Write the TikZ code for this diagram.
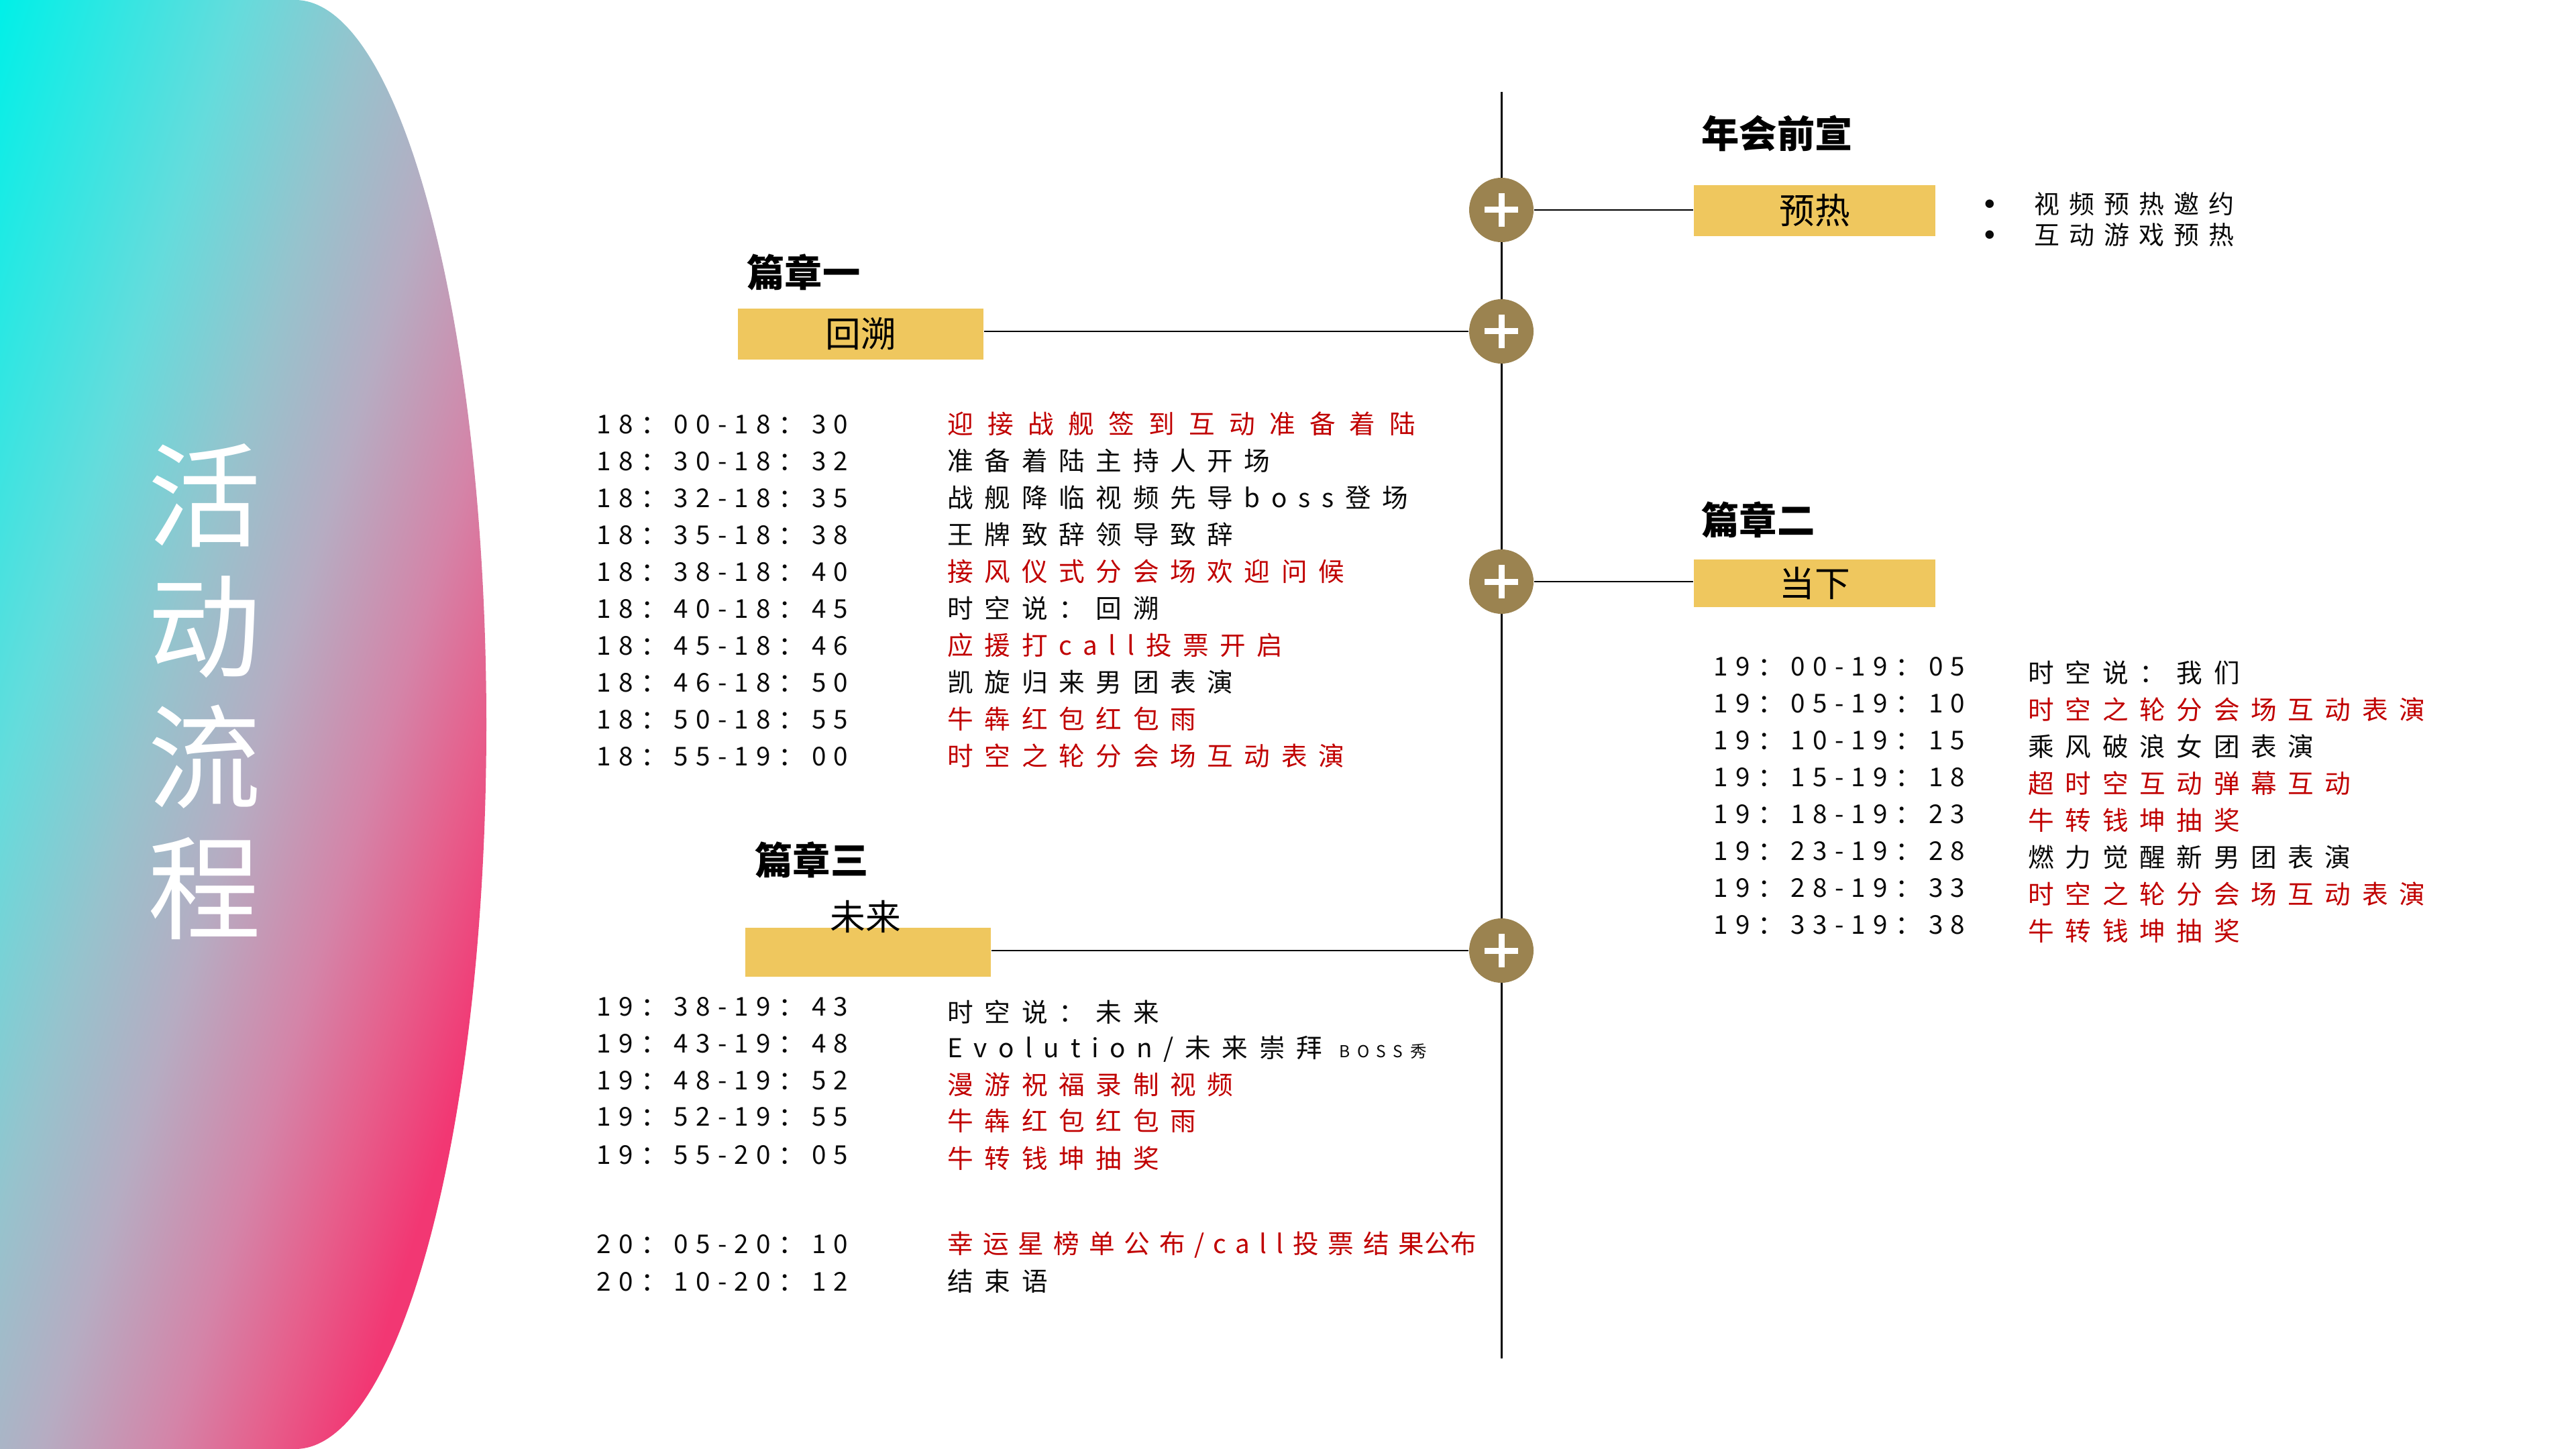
\documentclass[tikz,border=0pt]{standalone}
\usepackage{fontspec}
\usepackage{xcolor}
\usepackage{tikz}
\usetikzlibrary{positioning,calc}
\setmainfont{Noto Sans CJK SC}
\newfontfamily\timefont[LetterSpace=29]{Noto Sans CJK SC}
\newfontfamily\itemfont[LetterSpace=43]{Noto Sans CJK SC}
\newfontfamily\notefont[LetterSpace=37]{Noto Sans CJK SC}
\definecolor{BoxYellow}{RGB}{239,199,94}
\definecolor{Bronze}{RGB}{155,131,80}
\definecolor{ItemRed}{RGB}{192,0,0}
\definecolor{ItemBlack}{RGB}{10,10,10}
\definecolor{BlobA}{RGB}{0,240,232}
\definecolor{BlobB}{RGB}{100,220,220}
\definecolor{BlobC}{RGB}{150,195,205}
\definecolor{BlobD}{RGB}{182,172,194}
\definecolor{BlobE}{RGB}{212,132,168}
\definecolor{BlobF}{RGB}{230,95,140}
\definecolor{BlobG}{RGB}{242,55,115}
\pgfdeclarehorizontalshading{blobshade}{100bp}{color(0bp)=(BlobA); color(25bp)=(BlobA); color(39.2bp)=(BlobB); color(47.1bp)=(BlobC); color(53.8bp)=(BlobD); color(61.3bp)=(BlobE); color(66.7bp)=(BlobF); color(72.1bp)=(BlobG); color(100bp)=(BlobG)}
\newcommand{\notedot}{\makebox[0.74cm][l]{\raisebox{2.4pt}{\fontsize{4}{4}\selectfont ●}}}

\begin{document}
\begin{tikzpicture}[
  stage/.style={
    fill=BoxYellow,
    minimum width=3.6cm,
    minimum height=0.76cm,
    inner sep=0pt,
    font=\fontsize{15}{18}\selectfont
  },
  knot/.style={
    circle,
    fill=Bronze,
    minimum size=0.96cm,
    inner sep=0pt,
    path picture={
      \draw[white, line width=0.09cm]
        ([xshift=-0.25cm]path picture bounding box.center) -- ([xshift=0.25cm]path picture bounding box.center)
        ([yshift=-0.25cm]path picture bounding box.center) -- ([yshift=0.25cm]path picture bounding box.center);
    }
  },
  chapter/.style={anchor=west, inner sep=0pt, text height=0.88em, text depth=0.12em, font=\bfseries\fontsize{16}{19}\selectfont},
  slot/.style={anchor=west, inner sep=0pt, text height=0.88em, text depth=0.12em, text=ItemBlack, font=\timefont\fontsize{11}{13}\selectfont},
  act/.style={anchor=west, inner sep=0pt, text height=0.88em, text depth=0.12em, text=ItemBlack, font=\itemfont\fontsize{11}{13}\selectfont},
  hot/.style={act, text=ItemRed},
  spine/.style={line width=0.03cm},
  link/.style={line width=0.025cm}
]
\useasboundingbox (0,0) rectangle (38.4,-21.6);

\begin{scope}
  \clip (0,0) -- (4.40,0) arc[start angle=90, end angle=-90, x radius=2.85, y radius=10.8] -- (0,-21.6) -- cycle;
  \shade[shading=blobshade, transform canvas={rotate=-17}] (0,-23) rectangle (12,3);
\end{scope}
\node[text=white, align=center, inner sep=0pt, font=\fontsize{48}{55.5}\selectfont] (title) at (3.05,-10.31) {活\\动\\流\\程};

\coordinate (spinetop) at (22.38,-1.37);
\coordinate (spinebottom) at (22.38,-20.25);
\draw[spine] (spinetop) -- (spinebottom);

\node[knot] (k1) at (22.38,-3.13) {};
\node[knot] (k2) at (22.38,-4.94) {};
\node[knot] (k3) at (22.38,-8.67) {};
\node[knot] (k4) at (22.38,-14.17) {};

\node[stage] (warm) at (27.05,-3.14) {预热};
\node[stage, minimum width=3.66cm] (back) at (12.83,-4.98) {回溯};
\node[stage, minimum height=0.71cm] (now) at (27.05,-8.695) {当下};
\node[stage, minimum width=3.66cm, minimum height=0.73cm] (future) at (12.94,-14.195) {};
\node[inner sep=0pt, font=\fontsize{15}{18}\selectfont] (futurelabel) at ([xshift=-0.04cm,yshift=0.16cm]future.north) {未来};

\draw[link] (k1.east) -- (k1.east -| warm.west);
\draw[link] (k2.west) -- (k2.west -| back.east);
\draw[link] (k3.east) -- (k3.east -| now.west);
\draw[link] (k4.west) -- (k4.west -| future.east);

\node[chapter] (pre) at (25.36,-2.07) {年会前宣};
\node[chapter] (ch1) at (11.13,-4.14) {篇章一};
\node[chapter] (ch2) at (25.36,-7.83) {篇章二};
\node[chapter] (ch3) at (11.25,-12.90) {篇章三};

\node[anchor=west, inner sep=0pt, align=left, text=ItemBlack, font=\notefont\fontsize{10.8}{13.1}\selectfont] (notes) at (29.58,-3.27)
  {\notedot 视频预热邀约\\\notedot 互动游戏预热};

\node[slot] (s11) at (8.89,-6.33) {18：00-18：30};
\node[slot] (s12) at (8.89,-6.88) {18：30-18：32};
\node[slot] (s13) at (8.89,-7.43) {18：32-18：35};
\node[slot] (s14) at (8.89,-7.98) {18：35-18：38};
\node[slot] (s15) at (8.89,-8.53) {18：38-18：40};
\node[slot] (s16) at (8.89,-9.08) {18：40-18：45};
\node[slot] (s17) at (8.89,-9.63) {18：45-18：46};
\node[slot] (s18) at (8.89,-10.18) {18：46-18：50};
\node[slot] (s19) at (8.89,-10.73) {18：50-18：55};
\node[slot] (s110) at (8.89,-11.28) {18：55-19：00};

\node[hot] (a11) at (14.12,-6.33) {\addfontfeature{LetterSpace=55}迎接战舰签到互动准备着陆};
\node[act] (a12) at (14.12,-6.88) {准备着陆主持人开场};
\node[act] (a13) at (14.12,-7.43) {战舰降临视频先导boss登场};
\node[act] (a14) at (14.12,-7.98) {王牌致辞领导致辞};
\node[hot] (a15) at (14.12,-8.53) {接风仪式分会场欢迎问候};
\node[act] (a16) at (14.12,-9.08) {时空说：回溯};
\node[hot] (a17) at (14.12,-9.63) {应援打call投票开启};
\node[act] (a18) at (14.12,-10.18) {凯旋归来男团表演};
\node[hot] (a19) at (14.12,-10.73) {牛犇红包红包雨};
\node[hot] (a110) at (14.12,-11.28) {时空之轮分会场互动表演};

\node[slot] (s21) at (25.54,-9.94) {19：00-19：05};
\node[slot] (s22) at (25.54,-10.49) {19：05-19：10};
\node[slot] (s23) at (25.54,-11.04) {19：10-19：15};
\node[slot] (s24) at (25.54,-11.59) {19：15-19：18};
\node[slot] (s25) at (25.54,-12.14) {19：18-19：23};
\node[slot] (s26) at (25.54,-12.69) {19：23-19：28};
\node[slot] (s27) at (25.54,-13.24) {19：28-19：33};
\node[slot] (s28) at (25.54,-13.79) {19：33-19：38};

\node[act] (a21) at (30.23,-10.04) {时空说：我们};
\node[hot] (a22) at (30.23,-10.59) {时空之轮分会场互动表演};
\node[act] (a23) at (30.23,-11.14) {乘风破浪女团表演};
\node[hot] (a24) at (30.23,-11.69) {超时空互动弹幕互动};
\node[hot] (a25) at (30.23,-12.24) {牛转钱坤抽奖};
\node[act] (a26) at (30.23,-12.79) {燃力觉醒新男团表演};
\node[hot] (a27) at (30.23,-13.34) {时空之轮分会场互动表演};
\node[hot] (a28) at (30.23,-13.89) {牛转钱坤抽奖};

\node[slot] (s31) at (8.89,-15.01) {19：38-19：43};
\node[slot] (s32) at (8.89,-15.56) {19：43-19：48};
\node[slot] (s33) at (8.89,-16.11) {19：48-19：52};
\node[slot] (s34) at (8.89,-16.65) {19：52-19：55};
\node[slot] (s35) at (8.89,-17.22) {19：55-20：05};
\node[slot] (s36) at (8.89,-18.55) {20：05-20：10};
\node[slot] (s37) at (8.89,-19.11) {20：10-20：12};

\node[act] (a31) at (14.12,-15.10) {时空说：未来};
\node[act] (a32) at (14.12,-15.63) {Evolution/未来崇拜 {\fontsize{7}{8}\selectfont BOSS秀}};
\node[hot] (a33) at (14.12,-16.18) {漫游祝福录制视频};
\node[hot] (a34) at (14.12,-16.72) {牛犇红包红包雨};
\node[hot] (a35) at (14.12,-17.28) {牛转钱坤抽奖};
\node[hot] (a36) at (14.12,-18.55) {\addfontfeature{LetterSpace=36}幸运星榜单公布/call投票结果{\addfontfeature{LetterSpace=0}公布}};
\node[act] (a37) at (14.12,-19.11) {结束语};
\end{tikzpicture}
\end{document}
